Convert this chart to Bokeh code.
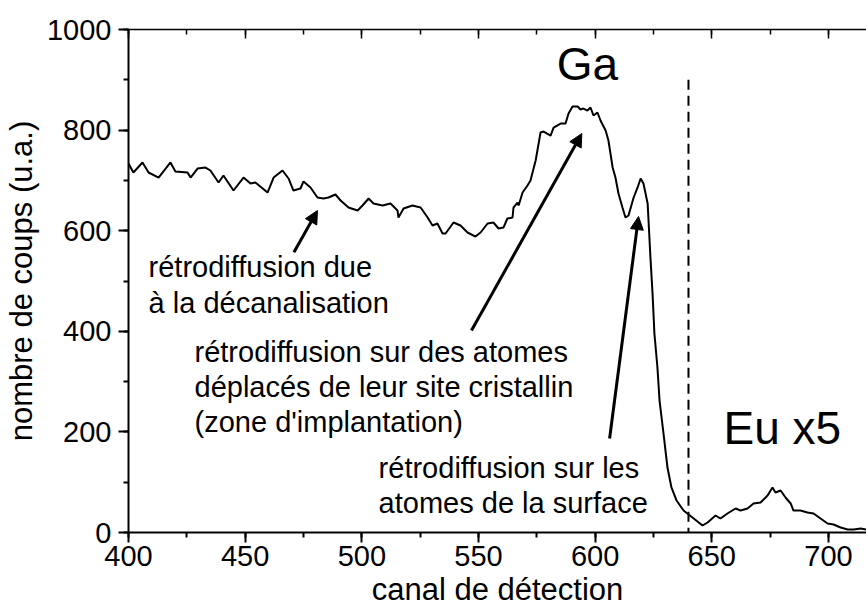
from bokeh.plotting import figure
from bokeh.models import Range1d, LinearAxis, SingleIntervalTicker, Arrow, NormalHead, ColumnDataSource, CustomJSTickFormatter
from bokeh.core.properties import value
from bokeh.embed import file_html
from bokeh.resources import INLINE

FONT = "Liberation Sans"

# --- data ---
channel = [400.0, 402.1, 406.0, 408.6, 412.9, 418.0, 420.1, 425.3, 426.6, 429.6, 433.0, 435.1,
           438.6, 440.7, 445.0, 449.3, 452.3, 454.4, 459.6, 462.2, 466.0, 468.6, 470.7, 473.7,
           475.0, 478.0, 481.0, 483.6, 485.7, 488.7, 490.9, 494.3, 498.2, 500.3, 502.9, 505.0,
           508.9, 512.3, 515.3, 515.7, 517.9, 521.7, 525.2, 528.2, 530.3, 532.4, 534.6, 535.9,
           539.3, 542.3, 545.3, 548.7, 550.9, 553.9, 556.4, 558.6, 560.7, 562.4, 564.6, 565.0,
           566.7, 567.2, 568.9, 571.0, 572.3, 574.5, 576.6, 577.9, 580.9, 582.2, 585.2, 587.3,
           588.6, 590.3, 592.5, 593.7, 595.0, 596.7, 598.0, 599.3, 601.0, 602.3, 604.5, 605.7,
           607.5, 608.7, 610.0, 611.7, 613.0, 614.3, 616.5, 618.2, 619.5, 620.7, 622.5, 623.7,
           624.6, 625.4, 626.7, 627.6, 629.3, 631.0, 632.7, 634.9, 637.9, 641.7, 646.0, 648.2,
           651.6, 653.7, 656.7, 660.2, 662.3, 665.3, 667.9, 670.9, 673.9, 676.0, 677.3, 679.5,
           681.6, 683.8, 685.0, 688.0, 691.0, 693.6, 696.6, 699.6, 702.2, 705.2, 708.2, 710.8,
           713.8, 716.3, 720.0]
counts = [733.6, 715.7, 735.6, 715.7, 705.7, 735.6, 717.7, 715.7, 705.7, 723.6, 725.6, 719.7,
          695.8, 709.7, 679.9, 705.7, 693.8, 695.8, 675.9, 705.7, 719.7, 703.8, 679.9, 683.9,
          697.8, 685.9, 666.0, 664.0, 666.0, 672.0, 660.0, 646.1, 640.1, 650.1, 664.0, 654.1,
          650.1, 654.1, 640.1, 626.2, 644.1, 650.1, 646.1, 626.2, 610.3, 614.3, 594.4, 594.4,
          616.3, 610.3, 596.4, 588.4, 596.4, 614.3, 616.3, 604.4, 606.3, 624.2, 626.2, 646.1,
          656.0, 650.1, 675.9, 689.8, 699.8, 739.5, 795.2, 797.2, 789.2, 805.1, 813.1, 813.1,
          833.0, 846.9, 846.9, 840.9, 842.9, 838.9, 844.9, 829.0, 835.0, 819.1, 799.2, 779.3,
          725.6, 705.7, 674.0, 646.1, 626.2, 630.2, 666.0, 685.9, 703.8, 693.8, 654.1, 546.7,
          475.1, 395.6, 328.0, 262.4, 196.8, 129.2, 89.5, 63.6, 43.7, 29.8, 13.9, 19.9,
          33.8, 27.8, 37.8, 47.7, 43.7, 47.7, 57.7, 59.6, 73.6, 89.5, 79.5, 83.5,
          69.6, 57.7, 43.7, 43.7, 39.8, 37.8, 27.8, 17.9, 15.9, 9.9, 6.0, 6.0,
          8.0, 6.0, 5.0]

separator_channel = 640
separator_span = [900, -50]

# arrows: tail -> tip (channel, counts)
arrow_x0 = [470.9, 547.0, 606.2]
arrow_y0 = [557.2, 401.6, 186.9]
arrow_x1 = [481.0, 594.3, 618.6]
arrow_y1 = [640.1, 793.2, 628.2]

# annotation lines (text, channel, counts)
note_text = ["rétrodiffusion due", "à la décanalisation",
             "rétrodiffusion sur des atomes", "déplacés de leur site cristallin",
             "(zone d'implantation)",
             "rétrodiffusion sur les", "atomes de la surface"]
note_x = [408.6, 408.6, 428.3, 428.3, 428.3, 507.2, 507.2]
note_y = [528.0, 456.4, 359.0, 289.4, 219.8, 128.4, 58.8]

big_text = ["Ga", "Eu x5"]
big_x = [583.5, 655.0]
big_y = [932.0, 207.0]

p = figure(width=866, height=609, output_backend="svg", toolbar_location=None,
           x_range=Range1d(400, 716.3), y_range=Range1d(0, 1000),
           min_border_left=128, min_border_right=0, min_border_top=29, min_border_bottom=77,
           background_fill_color="white", border_fill_color="white")
p.outline_line_color = None
p.grid.visible = False

p.xaxis.ticker = SingleIntervalTicker(interval=50, num_minor_ticks=2)
p.yaxis.ticker = SingleIntervalTicker(interval=200, num_minor_ticks=2)

for ax in (p.xaxis[0], p.yaxis[0]):
    ax.axis_line_width = 2
    ax.major_tick_line_width = 2
    ax.minor_tick_line_width = 2
    ax.major_tick_out = 10
    ax.major_tick_in = 0
    ax.minor_tick_out = 5
    ax.minor_tick_in = 0
    ax.major_label_text_font = FONT
    ax.major_label_text_font_size = "29px"
    ax.major_label_text_color = "black"
    ax.axis_label_text_font = FONT
    ax.axis_label_text_font_size = "31px"
    ax.axis_label_text_font_style = "normal"
    ax.axis_label_text_color = "black"

p.xaxis.axis_label = "canal de détection"
p.yaxis.axis_label = "nombre de coups (u.a.)"
p.xaxis.major_label_standoff = 3
p.yaxis.major_label_standoff = 7
p.xaxis.axis_label_standoff = 3
p.yaxis.axis_label_standoff = 5

top = LinearAxis(ticker=SingleIntervalTicker(interval=50, num_minor_ticks=2),
                 axis_line_width=1.5, major_tick_line_width=1.5, minor_tick_line_width=1.5,
                 major_tick_in=9, major_tick_out=0, minor_tick_in=5, minor_tick_out=0,
                 formatter=CustomJSTickFormatter(code="return ''"),
                 major_label_text_font_size="10px", major_label_standoff=0)
p.add_layout(top, "above")

p.line(channel, counts, line_color="black", line_width=2)

sep = Arrow(x_start=separator_channel, y_start=separator_span[0],
            x_end=separator_channel, y_end=separator_span[1], end=None,
            line_color="black", line_width=2, line_dash="10 6")
p.add_layout(sep)

for x0, y0, x1, y1 in zip(arrow_x0, arrow_y0, arrow_x1, arrow_y1):
    p.add_layout(Arrow(x_start=x0, y_start=y0, x_end=x1, y_end=y1, line_width=3,
                       line_color="black",
                       end=NormalHead(size=13, fill_color="black", line_color="black", line_width=1)))

src = ColumnDataSource(dict(t=note_text, x=note_x, y=note_y))
p.text(x="x", y="y", text="t", source=src, text_font=value(FONT), text_font_size="29px",
       text_color="black", text_align="left", text_baseline="alphabetic")

src2 = ColumnDataSource(dict(t=big_text, x=big_x, y=big_y))
p.text(x="x", y="y", text="t", source=src2, text_font=value(FONT), text_font_size="46px",
       text_color="black", text_align="left", text_baseline="alphabetic")

open("out.html", "w").write(file_html(p, INLINE))
